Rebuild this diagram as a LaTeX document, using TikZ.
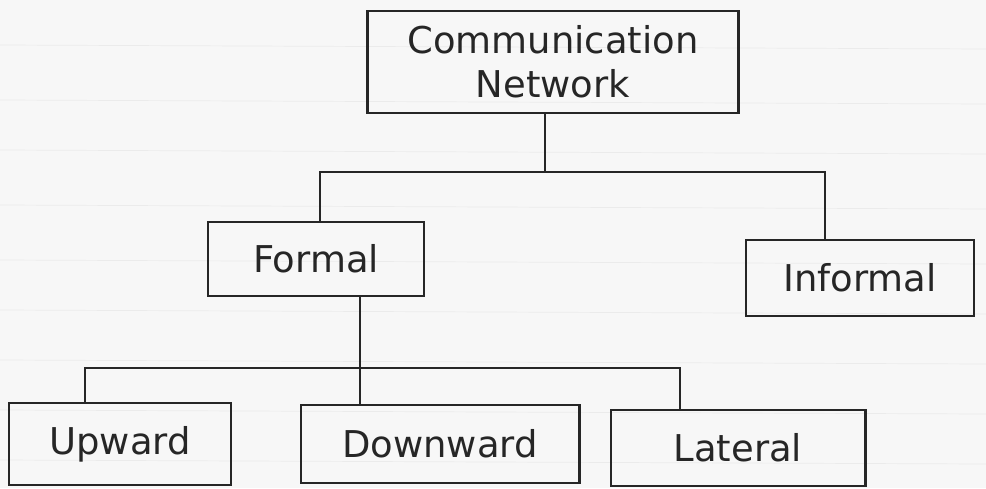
\documentclass[tikz,border=0pt]{standalone}
\usepackage{fontspec}
\setmainfont{DejaVu Sans}
\begin{document}
\begin{tikzpicture}[x=0.01cm,y=-0.01cm,
  box/.style={draw=black!85, line width=0.8pt, inner sep=0pt, font=\fontsize{10.5}{12.5}\selectfont, text=black!85, align=center},
  link/.style={draw=black!85, line width=0.7pt}]
\fill[black!3] (0,0) rectangle (986,488);
\useasboundingbox (0,0) rectangle (986,488);
\foreach \y in {45,100,150,205,260,310,360,410,460}
  \draw[black!8, line width=0.2pt] (0,\y) -- (986,\y+4);
\node[box, minimum width=3.7cm, minimum height=1.02cm] (cn) at (553,62) {Communication\\Network};
\node[box, minimum width=2.16cm, minimum height=0.74cm] (formal) at (316,259) {Formal};
\node[box, minimum width=2.28cm, minimum height=0.76cm] (informal) at (860,278) {Informal};
\node[box, minimum width=2.22cm, minimum height=0.82cm] (up) at (120,444) {Upward};
\node[box, minimum width=2.78cm, minimum height=0.78cm] (down) at (440,444) {Downward};
\node[box, minimum width=2.54cm, minimum height=0.76cm] (lat) at (738,448) {Lateral};
\coordinate (j1) at (545,172);
\coordinate (j2) at (360,368);
\draw[link] (cn.south -| j1) -- (j1);
\draw[link] (formal.north -| 320,0) -- (320,172) -- (825,172) -- (informal.north -| 825,0);
\draw[link] (formal.south -| j2) -- (j2);
\draw[link] (up.north -| 85,0) -- (85,368) -- (680,368) -- (lat.north -| 680,0);
\draw[link] (j2) -- (down.north -| j2);
\end{tikzpicture}
\end{document}
